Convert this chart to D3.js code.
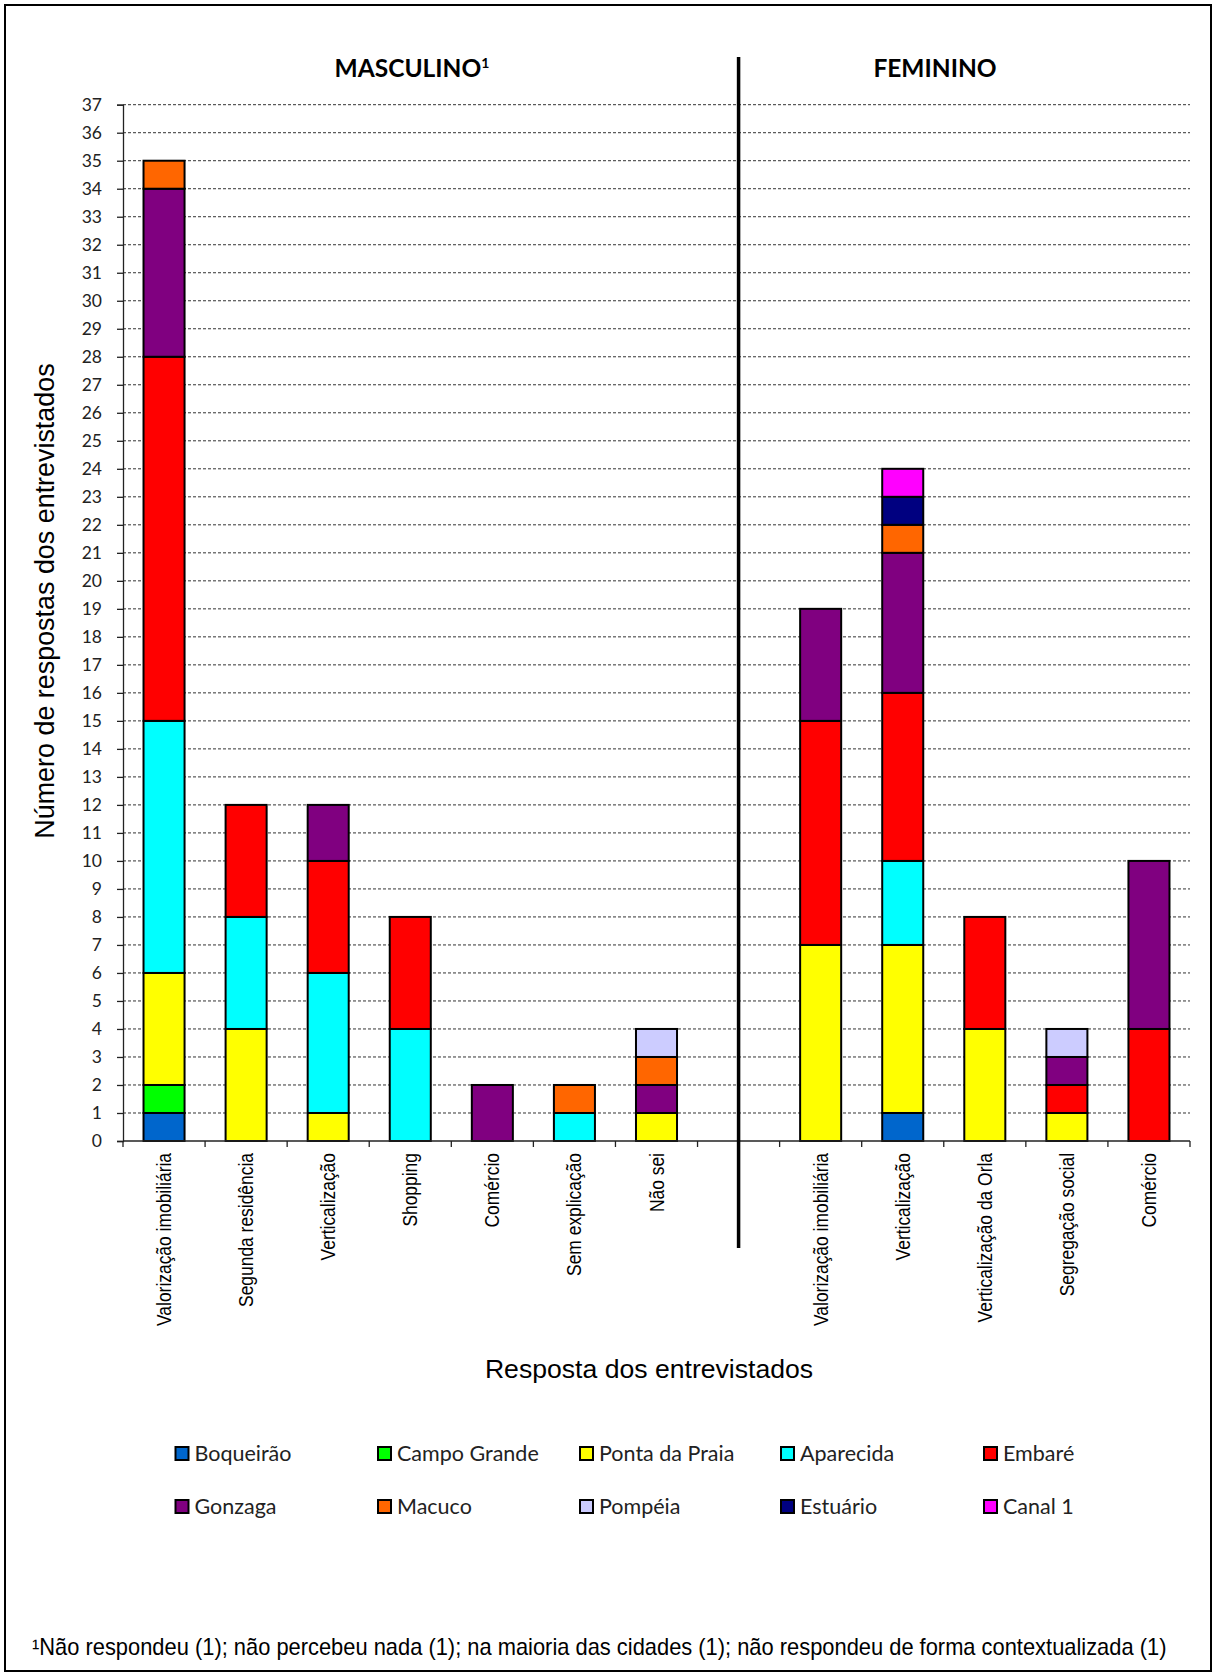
<!DOCTYPE html>
<html><head><meta charset="utf-8">
<script src="https://cdn.jsdelivr.net/npm/d3@7"></script>
<style>body{margin:0;background:#fff}</style>
</head><body>
<svg id="c" width="1216" height="1679"></svg>
<script>
// ---- data ----
const categories = ["Valorização imobiliária","Segunda residência","Verticalização","Shopping","Comércio","Sem explicação","Não sei","","Valorização imobiliária","Verticalização","Verticalização da Orla","Segregação social","Comércio"];
const neighbourhoods = ["Boqueirão","Campo Grande","Ponta da Praia","Aparecida","Embaré","Gonzaga","Macuco","Pompéia","Estuário","Canal 1"];
const colors = ["#0066CC","#00FF00","#FFFF00","#00FFFF","#FF0000","#800080","#FF6600","#CCCCFF","#000080","#FF00FF"];
const boqueirao    = [1,0,0,0,0,0,0,0, 0,1,0,0,0];
const campoGrande  = [1,0,0,0,0,0,0,0, 0,0,0,0,0];
const pontaDaPraia = [4,4,1,0,0,0,1,0, 7,6,4,1,0];
const aparecida    = [9,4,5,4,0,1,0,0, 0,3,0,0,0];
const embare       = [13,4,4,4,0,0,0,0, 8,6,4,1,4];
const gonzaga      = [6,0,2,0,2,0,1,0, 4,5,0,1,6];
const macuco       = [1,0,0,0,0,1,1,0, 0,1,0,0,0];
const pompeia      = [0,0,0,0,0,0,1,0, 0,0,0,1,0];
const estuario     = [0,0,0,0,0,0,0,0, 0,1,0,0,0];
const canal1       = [0,0,0,0,0,0,0,0, 0,1,0,0,0];
const seriesValues = [boqueirao,campoGrande,pontaDaPraia,aparecida,embare,gonzaga,macuco,pompeia,estuario,canal1];
const yTicks = d3.range(0, 38);
const groupTitles = ["MASCULINO", "FEMININO"];
const yTitle = "Número de respostas dos entrevistados";
const xTitle = "Resposta dos entrevistados";
const footnote = "¹Não respondeu (1); não percebeu nada (1); na maioria das cidades (1); não respondeu de forma contextualizada (1)";

// ---- build table ----
const table = categories.map((c, i) => {
  const row = {idx: i};
  neighbourhoods.forEach((n, j) => row[n] = seriesValues[j][i]);
  return row;
});
const stack = d3.stack().keys(neighbourhoods)(table);

const svg = d3.select("#c");
svg.append("rect").attr("x",5).attr("y",5).attr("width",1206).attr("height",1666)
  .attr("fill","#fff").attr("stroke","#000").attr("stroke-width",2);

const x = d3.scaleBand().domain(d3.range(categories.length)).range([123,1190])
  .paddingInner(0.5).paddingOuter(0.25);
const y = d3.scaleLinear().domain([0,37]).range([1141,104.7]);

// gridlines
svg.append("g").selectAll("line").data(yTicks.filter(t=>t>0)).join("line")
  .attr("x1",123).attr("x2",1190).attr("y1",d=>y(d)).attr("y2",d=>y(d))
  .attr("stroke","#333").attr("stroke-width",1).attr("stroke-dasharray","3,2");

// y axis
const ya = svg.append("g").attr("transform","translate(123,0)")
  .call(d3.axisLeft(y).tickValues(yTicks).tickSize(6).tickPadding(15).tickFormat(d3.format("d")));
ya.select(".domain").attr("stroke","#222").attr("stroke-width",1.3);
ya.selectAll(".tick line").attr("stroke","#222").attr("stroke-width",1.3);
ya.selectAll("text").attr("font-family","Lato, sans-serif").attr("font-size",17.5).attr("fill","#222");

// bars
svg.append("g").selectAll("g").data(stack).join("g")
  .attr("fill",(d,i)=>colors[i])
  .selectAll("rect").data(d=>d.filter(s=>s[1]-s[0]>0)).join("rect")
  .attr("x",d=>x(d.data.idx)).attr("width",x.bandwidth())
  .attr("y",d=>y(d[1])).attr("height",d=>y(d[0])-y(d[1]))
  .attr("stroke","#000").attr("stroke-width",2);

// x axis
const x0 = x.range()[0];
svg.append("line").attr("x1",x0).attr("x2",x.range()[1]).attr("y1",y(0)).attr("y2",y(0))
  .attr("stroke","#222").attr("stroke-width",1.3);
svg.append("g").selectAll("line").data(d3.range(categories.length+1)).join("line")
  .attr("x1",i=>x0+i*x.step()).attr("x2",i=>x0+i*x.step())
  .attr("y1",y(0)).attr("y2",y(0)+6).attr("stroke","#222").attr("stroke-width",1.3);

// category labels
svg.append("g").selectAll("text").data(categories.map((c,i)=>({c,i})).filter(d=>d.c)).join("text")
  .attr("transform",d=>`translate(${x(d.i)+x.bandwidth()/2+7},1153) rotate(-90) scale(0.85,1)`)
  .attr("text-anchor","end").attr("font-family","'Liberation Sans', Arial, sans-serif")
  .attr("font-size",20.5).attr("fill","#000").text(d=>d.c);

// separator
const sepX = x0 + 7.5*x.step();
svg.append("line").attr("x1",sepX).attr("x2",sepX).attr("y1",57).attr("y2",1248)
  .attr("stroke","#000").attr("stroke-width",3.5);

// group titles
const t1 = svg.append("text").attr("x",412).attr("y",77).attr("text-anchor","middle")
  .attr("font-family","Lato, sans-serif").attr("font-weight","bold").attr("font-size",24.5);
t1.append("tspan").text(groupTitles[0]);
t1.append("tspan").attr("font-size",14).attr("dy",-9).text("1");
svg.append("text").attr("x",935).attr("y",77).attr("text-anchor","middle")
  .attr("font-family","Lato, sans-serif").attr("font-weight","bold").attr("font-size",24.5).text(groupTitles[1]);

// axis titles
svg.append("text").attr("transform","translate(54,601) rotate(-90)").attr("text-anchor","middle")
  .attr("font-family","'Liberation Sans', Arial, sans-serif").attr("font-size",26.9).text(yTitle);
svg.append("text").attr("x",649).attr("y",1378).attr("text-anchor","middle")
  .attr("font-family","'Liberation Sans', Arial, sans-serif").attr("font-size",26.6).text(xTitle);

// legend
const colX = [174.5, 377, 579, 780, 983];
const rowY = [1461, 1514];
const lg = svg.append("g").selectAll("g").data(neighbourhoods).join("g")
  .attr("transform",(d,i)=>`translate(${colX[i%5]},${rowY[Math.floor(i/5)]})`);
lg.append("rect").attr("x",1).attr("y",-14).attr("width",13).attr("height",13)
  .attr("fill",(d,i)=>colors[i]).attr("stroke","#000").attr("stroke-width",2);
lg.append("text").attr("x",20).attr("y",0).attr("font-family","Lato, sans-serif")
  .attr("font-size",21.5).attr("fill","#222").text(d=>d);

// footnote (condensed to the reference width)
const fn = svg.append("text").attr("font-family","'Liberation Sans', Arial, sans-serif")
  .attr("font-size",23).text(footnote);
const natural = fn.node().getComputedTextLength();
fn.attr("transform",`translate(32,1655) scale(${1135/natural},1)`);
</script>
</body></html>
